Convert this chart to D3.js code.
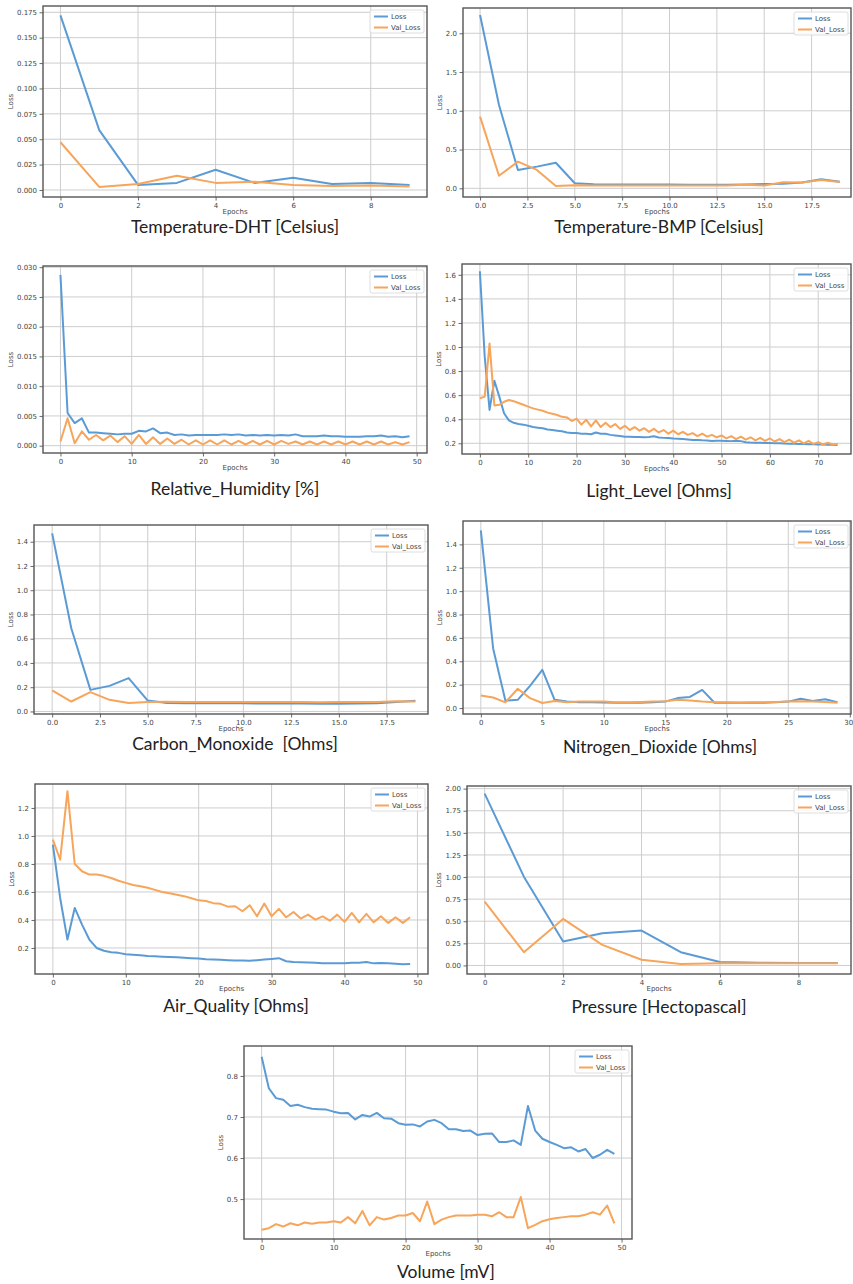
<!DOCTYPE html>
<html>
<head>
<meta charset="utf-8">
<script src="https://cdn.jsdelivr.net/npm/d3@7"></script>
<style>
  body { margin: 0; background: #fff; }
  svg { display: block; }
</style>
</head>
<body>
<div id="chart"></div>
<script>
/////////////////////////////////////////
//////////////// DATA ///////////////////
/////////////////////////////////////////

//Temperature-DHT
const dhtLoss = [0.172, 0.059, 0.005, 0.007, 0.020, 0.007, 0.012, 0.006, 0.007, 0.005];
const dhtVal  = [0.047, 0.003, 0.006, 0.014, 0.007, 0.008, 0.005, 0.004, 0.0045, 0.0035];
const dhtXTicks = [0, 2, 4, 6, 8];
const dhtYTicks = [0, 0.025, 0.05, 0.075, 0.1, 0.125, 0.15, 0.175];

//Temperature-BMP
const bmpLoss = [2.236, 1.075, 0.237, 0.28, 0.33, 0.065, 0.052, 0.05, 0.05, 0.048,
                 0.048, 0.047, 0.047, 0.046, 0.05, 0.055, 0.06, 0.075, 0.116, 0.086];
const bmpVal  = [0.925, 0.163, 0.344, 0.237, 0.03, 0.04, 0.035, 0.035, 0.035, 0.035,
                 0.035, 0.035, 0.037, 0.035, 0.045, 0.035, 0.077, 0.075, 0.107, 0.08];
const bmpXTicks = [0, 2.5, 5, 7.5, 10, 12.5, 15, 17.5];
const bmpYTicks = [0, 0.5, 1, 1.5, 2];

//Relative_Humidity
const humLoss = [0.0287, 0.0055, 0.0038, 0.0046, 0.0022, 0.0022, 0.0021, 0.0020, 0.0019, 0.0020,
                 0.0020, 0.0025, 0.0024, 0.0029, 0.0021, 0.0022, 0.0018, 0.0019, 0.0017, 0.0018,
                 0.0018, 0.0018, 0.0018, 0.0019, 0.0018, 0.0019, 0.0017, 0.0018, 0.0017, 0.0018,
                 0.0017, 0.0018, 0.0017, 0.0019, 0.0016, 0.0016, 0.0016, 0.0017, 0.0016, 0.0016,
                 0.0015, 0.0015, 0.0015, 0.0016, 0.0016, 0.0017, 0.0015, 0.0016, 0.0014, 0.0016];
const humVal  = [0.0007, 0.0046, 0.0004, 0.0024, 0.0010, 0.0018, 0.0009, 0.0017, 0.0006, 0.0016,
                 0.0003, 0.0018, 0.0003, 0.0014, 0.0003, 0.0012, 0.0003, 0.0010, 0.0002, 0.0009,
                 0.0002, 0.0009, 0.0002, 0.0009, 0.0002, 0.0008, 0.0002, 0.0008, 0.0002, 0.0008,
                 0.0002, 0.0008, 0.0003, 0.0007, 0.0002, 0.0007, 0.0002, 0.0007, 0.0002, 0.0007,
                 0.0002, 0.0007, 0.0002, 0.0007, 0.0002, 0.0007, 0.0002, 0.0006, 0.0002, 0.0006];
const humXTicks = [0, 10, 20, 30, 40, 50];
const humYTicks = [0, 0.005, 0.01, 0.015, 0.02, 0.025, 0.03];

//Light_Level
const lightLoss = [1.63, 0.92, 0.477, 0.72, 0.59, 0.45, 0.39, 0.37, 0.36, 0.355,
                   0.345, 0.335, 0.33, 0.325, 0.315, 0.31, 0.305, 0.30, 0.29, 0.285,
                   0.285, 0.28, 0.28, 0.275, 0.29, 0.28, 0.28, 0.27, 0.265, 0.26,
                   0.255, 0.255, 0.252, 0.252, 0.25, 0.252, 0.258, 0.248, 0.245, 0.243,
                   0.24, 0.238, 0.235, 0.232, 0.228, 0.228, 0.225, 0.224, 0.22, 0.222,
                   0.222, 0.22, 0.218, 0.222, 0.218, 0.208, 0.206, 0.205, 0.204, 0.203,
                   0.202, 0.2, 0.2, 0.198, 0.197, 0.196, 0.195, 0.195, 0.193, 0.192,
                   0.19, 0.19, 0.188, 0.187, 0.186];
const lightVal  = [0.574, 0.588, 1.03, 0.515, 0.52, 0.545, 0.56, 0.55, 0.535, 0.52,
                   0.505, 0.49, 0.48, 0.47, 0.455, 0.445, 0.435, 0.42, 0.415, 0.385,
                   0.405, 0.355, 0.395, 0.34, 0.39, 0.335, 0.37, 0.335, 0.36, 0.32,
                   0.345, 0.31, 0.335, 0.305, 0.325, 0.295, 0.32, 0.29, 0.31, 0.28,
                   0.305, 0.275, 0.295, 0.27, 0.285, 0.26, 0.28, 0.255, 0.27, 0.25,
                   0.265, 0.24, 0.26, 0.235, 0.255, 0.23, 0.25, 0.225, 0.245, 0.22,
                   0.24, 0.215, 0.235, 0.21, 0.23, 0.205, 0.225, 0.2, 0.22, 0.195,
                   0.21, 0.19, 0.205, 0.19, 0.195];
const lightXTicks = [0, 10, 20, 30, 40, 50, 60, 70];
const lightYTicks = [0.2, 0.4, 0.6, 0.8, 1.0, 1.2, 1.4, 1.6];

//Carbon_Monoxide
const coLoss = [1.469, 0.686, 0.178, 0.211, 0.275, 0.09, 0.07, 0.068, 0.067, 0.067,
                0.067, 0.066, 0.066, 0.065, 0.063, 0.064, 0.065, 0.068, 0.078, 0.088];
const coVal  = [0.173, 0.082, 0.159, 0.096, 0.069, 0.078, 0.08, 0.079, 0.078, 0.078,
                0.077, 0.077, 0.077, 0.077, 0.076, 0.077, 0.078, 0.078, 0.085, 0.082];
const coXTicks = [0, 2.5, 5, 7.5, 10, 12.5, 15, 17.5];
const coYTicks = [0, 0.2, 0.4, 0.6, 0.8, 1.0, 1.2, 1.4];

//Nitrogen_Dioxide
const no2Loss = [1.52, 0.51, 0.063, 0.07, 0.19, 0.327, 0.07, 0.055, 0.05, 0.05,
                 0.048, 0.045, 0.045, 0.045, 0.05, 0.055, 0.085, 0.095, 0.155, 0.045,
                 0.045, 0.045, 0.045, 0.045, 0.05, 0.055, 0.08, 0.06, 0.075, 0.05];
const no2Val  = [0.108, 0.09, 0.048, 0.165, 0.085, 0.043, 0.06, 0.05, 0.055, 0.055,
                 0.055, 0.05, 0.05, 0.052, 0.055, 0.058, 0.07, 0.065, 0.055, 0.05,
                 0.05, 0.048, 0.05, 0.05, 0.052, 0.055, 0.058, 0.055, 0.052, 0.045];
const no2XTicks = [0, 5, 10, 15, 20, 25, 30];
const no2YTicks = [0, 0.2, 0.4, 0.6, 0.8, 1.0, 1.2, 1.4];

//Air_Quality
const airLoss = [0.938, 0.557, 0.26, 0.486, 0.367, 0.26, 0.2, 0.18, 0.17, 0.165,
                 0.155, 0.152, 0.148, 0.143, 0.14, 0.137, 0.135, 0.133, 0.13, 0.127,
                 0.125, 0.12, 0.117, 0.115, 0.113, 0.11, 0.11, 0.108, 0.113, 0.118,
                 0.122, 0.127, 0.105, 0.1, 0.098, 0.097, 0.095, 0.09, 0.09, 0.09,
                 0.09, 0.095, 0.095, 0.1, 0.09, 0.093, 0.09, 0.087, 0.083, 0.085];
const airVal  = [0.974, 0.83, 1.32, 0.8, 0.748, 0.724, 0.725, 0.715, 0.70, 0.68,
                 0.665, 0.65, 0.64, 0.63, 0.615, 0.60, 0.59, 0.58, 0.57, 0.555,
                 0.54, 0.535, 0.52, 0.515, 0.495, 0.498, 0.462, 0.505, 0.426, 0.517,
                 0.426, 0.479, 0.419, 0.457, 0.41, 0.438, 0.402, 0.426, 0.395, 0.438,
                 0.386, 0.45, 0.383, 0.443, 0.383, 0.426, 0.379, 0.419, 0.379, 0.419];
const airXTicks = [0, 10, 20, 30, 40, 50];
const airYTicks = [0.2, 0.4, 0.6, 0.8, 1.0, 1.2];

//Pressure
const presLoss = [1.944, 1.004, 0.27, 0.365, 0.395, 0.15, 0.038, 0.03, 0.028, 0.028];
const presVal  = [0.722, 0.15, 0.526, 0.233, 0.064, 0.015, 0.025, 0.025, 0.025, 0.025];
const presXTicks = [0, 2, 4, 6, 8];
const presYTicks = [0, 0.25, 0.5, 0.75, 1.0, 1.25, 1.5, 1.75, 2.0];

//Volume
const volLoss = [0.847, 0.77, 0.746, 0.742, 0.727, 0.73, 0.724, 0.72, 0.719, 0.718,
                 0.713, 0.709, 0.71, 0.694, 0.705, 0.701, 0.71, 0.697, 0.696, 0.685,
                 0.681, 0.682, 0.677, 0.689, 0.693, 0.685, 0.67, 0.67, 0.666, 0.667,
                 0.656, 0.659, 0.66, 0.639, 0.639, 0.643, 0.632, 0.727, 0.667, 0.647,
                 0.639, 0.632, 0.624, 0.626, 0.616, 0.622, 0.6, 0.608, 0.62, 0.61];
const volVal  = [0.425, 0.429, 0.439, 0.433, 0.441, 0.436, 0.443, 0.44, 0.443, 0.443,
                 0.446, 0.443, 0.456, 0.441, 0.471, 0.436, 0.456, 0.45, 0.454, 0.46,
                 0.46, 0.466, 0.446, 0.494, 0.439, 0.45, 0.456, 0.46, 0.46, 0.46,
                 0.462, 0.462, 0.458, 0.468, 0.456, 0.456, 0.505, 0.429, 0.437, 0.446,
                 0.451, 0.454, 0.456, 0.458, 0.458, 0.462, 0.468, 0.462, 0.484, 0.441];
const volXTicks = [0, 10, 20, 30, 40, 50];
const volYTicks = [0.5, 0.6, 0.7, 0.8];

/////////////////////////////////////////
/////////////// COLORS //////////////////
/////////////////////////////////////////

const COLORS = {
    "loss": "#5b9bd5",
    "val": "#f6a55b",
    "grid": "#cdcdcd",
    "frame": "#555555",
    "tick": "#444444",
    "caption": "#222222"
};

const TICK_FONT = "DejaVu Sans, sans-serif";
const CAPTION_FONT = "Lato, sans-serif";

/////////////////////////////////////////
/////////////// PANELS //////////////////
/////////////////////////////////////////

//box = [left, top, right, bottom] of the axes frame, cap = [centre x, baseline]
const PANELS = [
    { title: "Temperature-DHT [Celsius]", loss: dhtLoss, val: dhtVal, xTicks: dhtXTicks, yTicks: dhtYTicks,
      xFmt: "d", yFmt: ".3f", box: [43, 6, 427, 197], xDom: [-0.45, 9.45], yDom: [-0.0069, 0.1812], cap: [235, 233] },
    { title: "Temperature-BMP [Celsius]", loss: bmpLoss, val: bmpVal, xTicks: bmpXTicks, yTicks: bmpYTicks,
      xFmt: ".1f", yFmt: ".1f", box: [463, 8, 851, 197], xDom: [-0.9, 19.58], yDom: [-0.112, 2.326], cap: [659, 233] },
    { title: "Relative_Humidity [%]", loss: humLoss, val: humVal, xTicks: humXTicks, yTicks: humYTicks,
      xFmt: "d", yFmt: ".3f", box: [43, 266, 427, 453], xDom: [-2.45, 51.45], yDom: [-0.00123, 0.0302], cap: [235, 495] },
    { title: "Light_Level [Ohms]", loss: lightLoss, val: lightVal, xTicks: lightXTicks, yTicks: lightYTicks,
      xFmt: "d", yFmt: ".1f", box: [462, 264, 851, 454], xDom: [-3.7, 76.78], yDom: [0.111, 1.69], cap: [659, 497] },
    { title: "Carbon_Monoxide  [Ohms]", loss: coLoss, val: coVal, xTicks: coXTicks, yTicks: coYTicks,
      xFmt: ".1f", yFmt: ".1f", box: [34, 525, 428, 714], xDom: [-0.95, 19.66], yDom: [-0.021, 1.538], cap: [235, 750] },
    { title: "Nitrogen_Dioxide [Ohms]", loss: no2Loss, val: no2Val, xTicks: no2XTicks, yTicks: no2YTicks,
      xFmt: "d", yFmt: ".1f", box: [463, 521, 851, 714], xDom: [-1.45, 30.1], yDom: [-0.051, 1.6], cap: [660, 753] },
    { title: "Air_Quality [Ohms]", loss: airLoss, val: airVal, xTicks: airXTicks, yTicks: airYTicks,
      xFmt: "d", yFmt: ".1f", box: [35, 784, 428, 974], xDom: [-2.45, 51.45], yDom: [0.014, 1.371], cap: [236, 1012] },
    { title: "Pressure [Hectopascal]", loss: presLoss, val: presVal, xTicks: presXTicks, yTicks: presYTicks,
      xFmt: "d", yFmt: ".2f", box: [467, 786, 851, 974], xDom: [-0.45, 9.34], yDom: [-0.097, 2.03], cap: [659, 1013] },
    { title: "Volume [mV]", loss: volLoss, val: volVal, xTicks: volXTicks, yTicks: volYTicks,
      xFmt: "d", yFmt: ".1f", box: [244, 1046, 632, 1239], xDom: [-2.45, 51.45], yDom: [0.4027, 0.873], cap: [446, 1278] }
];

//////////////////////////////////////////
/////////////// Create SVG ///////////////
//////////////////////////////////////////

const WIDTH = 853;
const HEIGHT = 1284;

const svg = d3.select("#chart").append("svg")
    .attr("width", WIDTH)
    .attr("height", HEIGHT)
    .style("background", "#fff");

////////////////////////////////////////////
//////////// Draw one panel ////////////////
////////////////////////////////////////////

function drawPanel(p) {
    const [x0, y0, x1, y1] = p.box;

    const x = d3.scaleLinear().domain(p.xDom).range([x0, x1]);
    const y = d3.scaleLinear().domain(p.yDom).range([y1, y0]);

    const g = svg.append("g").attr("class", "panel");

    //grid
    const grid = g.append("g").attr("stroke", COLORS.grid).attr("stroke-width", 1);
    grid.selectAll(".gx").data(p.xTicks).join("line")
        .attr("x1", d => x(d)).attr("x2", d => x(d))
        .attr("y1", y0).attr("y2", y1);
    grid.selectAll(".gy").data(p.yTicks).join("line")
        .attr("y1", d => y(d)).attr("y2", d => y(d))
        .attr("x1", x0).attr("x2", x1);

    //axes
    const xAxis = g.append("g")
        .attr("transform", `translate(0,${y1})`)
        .call(d3.axisBottom(x).tickValues(p.xTicks).tickFormat(d3.format(p.xFmt)).tickSize(3.5).tickPadding(2.5));
    const yAxis = g.append("g")
        .attr("transform", `translate(${x0},0)`)
        .call(d3.axisLeft(y).tickValues(p.yTicks).tickFormat(d3.format(p.yFmt)).tickSize(3.5).tickPadding(2.5));

    [xAxis, yAxis].forEach(ax => {
        ax.select(".domain").remove();
        ax.selectAll("line").attr("stroke", COLORS.tick).attr("stroke-width", 0.8);
        ax.selectAll("text")
            .attr("fill", COLORS.tick)
            .style("font-family", TICK_FONT)
            .style("font-size", "7px");
    });

    //keep a tick label that sits on the picture edge inside it
    xAxis.selectAll(".tick").each(function(d) {
        const t = d3.select(this).select("text");
        const w = t.node().getComputedTextLength();
        if (x(d) + w / 2 > WIDTH - 1) t.attr("text-anchor", "end").attr("dx", w / 2 - 1.5);
    });

    //lines
    const line = d3.line().x((d, i) => x(i)).y(d => y(d));
    g.append("path").datum(p.loss)
        .attr("d", line).attr("fill", "none")
        .attr("stroke", COLORS.loss).attr("stroke-width", 2).attr("stroke-linejoin", "round");
    g.append("path").datum(p.val)
        .attr("d", line).attr("fill", "none")
        .attr("stroke", COLORS.val).attr("stroke-width", 2).attr("stroke-linejoin", "round");

    //frame
    g.append("rect")
        .attr("x", x0).attr("y", y0)
        .attr("width", x1 - x0).attr("height", y1 - y0)
        .attr("fill", "none").attr("stroke", COLORS.frame).attr("stroke-width", 1.4);

    //axis labels
    g.append("text")
        .attr("x", (x0 + x1) / 2).attr("y", y1 + 17)
        .attr("text-anchor", "middle")
        .attr("fill", COLORS.tick)
        .style("font-family", TICK_FONT).style("font-size", "7px")
        .text("Epochs");

    const yb = yAxis.node().getBBox();
    g.append("text")
        .attr("transform", `translate(${x0 + yb.x - 4},${(y0 + y1) / 2}) rotate(-90)`)
        .attr("text-anchor", "middle")
        .attr("fill", COLORS.tick)
        .style("font-family", TICK_FONT).style("font-size", "7px")
        .text("Loss");

    //legend
    const lw = 54, lh = 23;
    const lg = g.append("g").attr("transform", `translate(${x1 - lw - 3},${y0 + 4})`);
    lg.append("rect")
        .attr("width", lw).attr("height", lh).attr("rx", 2)
        .attr("fill", "#fff").attr("fill-opacity", 0.85)
        .attr("stroke", "#d6d6d6").attr("stroke-width", 0.8);
    const entries = [["Loss", COLORS.loss], ["Val_Loss", COLORS.val]];
    entries.forEach(([label, c], i) => {
        const ry = 6.5 + i * 11;
        lg.append("line")
            .attr("x1", 4).attr("x2", 18).attr("y1", ry).attr("y2", ry)
            .attr("stroke", c).attr("stroke-width", 2);
        lg.append("text")
            .attr("x", 21).attr("y", ry + 2.5)
            .attr("fill", COLORS.tick)
            .style("font-family", TICK_FONT).style("font-size", "7px")
            .text(label);
    });

    //caption
    svg.append("text")
        .attr("x", p.cap[0]).attr("y", p.cap[1])
        .attr("text-anchor", "middle")
        .attr("fill", COLORS.caption)
        .style("font-family", CAPTION_FONT).style("font-size", "17.5px")
        .style("white-space", "pre")
        .text(p.title);
}

PANELS.forEach(drawPanel);
</script>
</body>
</html>
